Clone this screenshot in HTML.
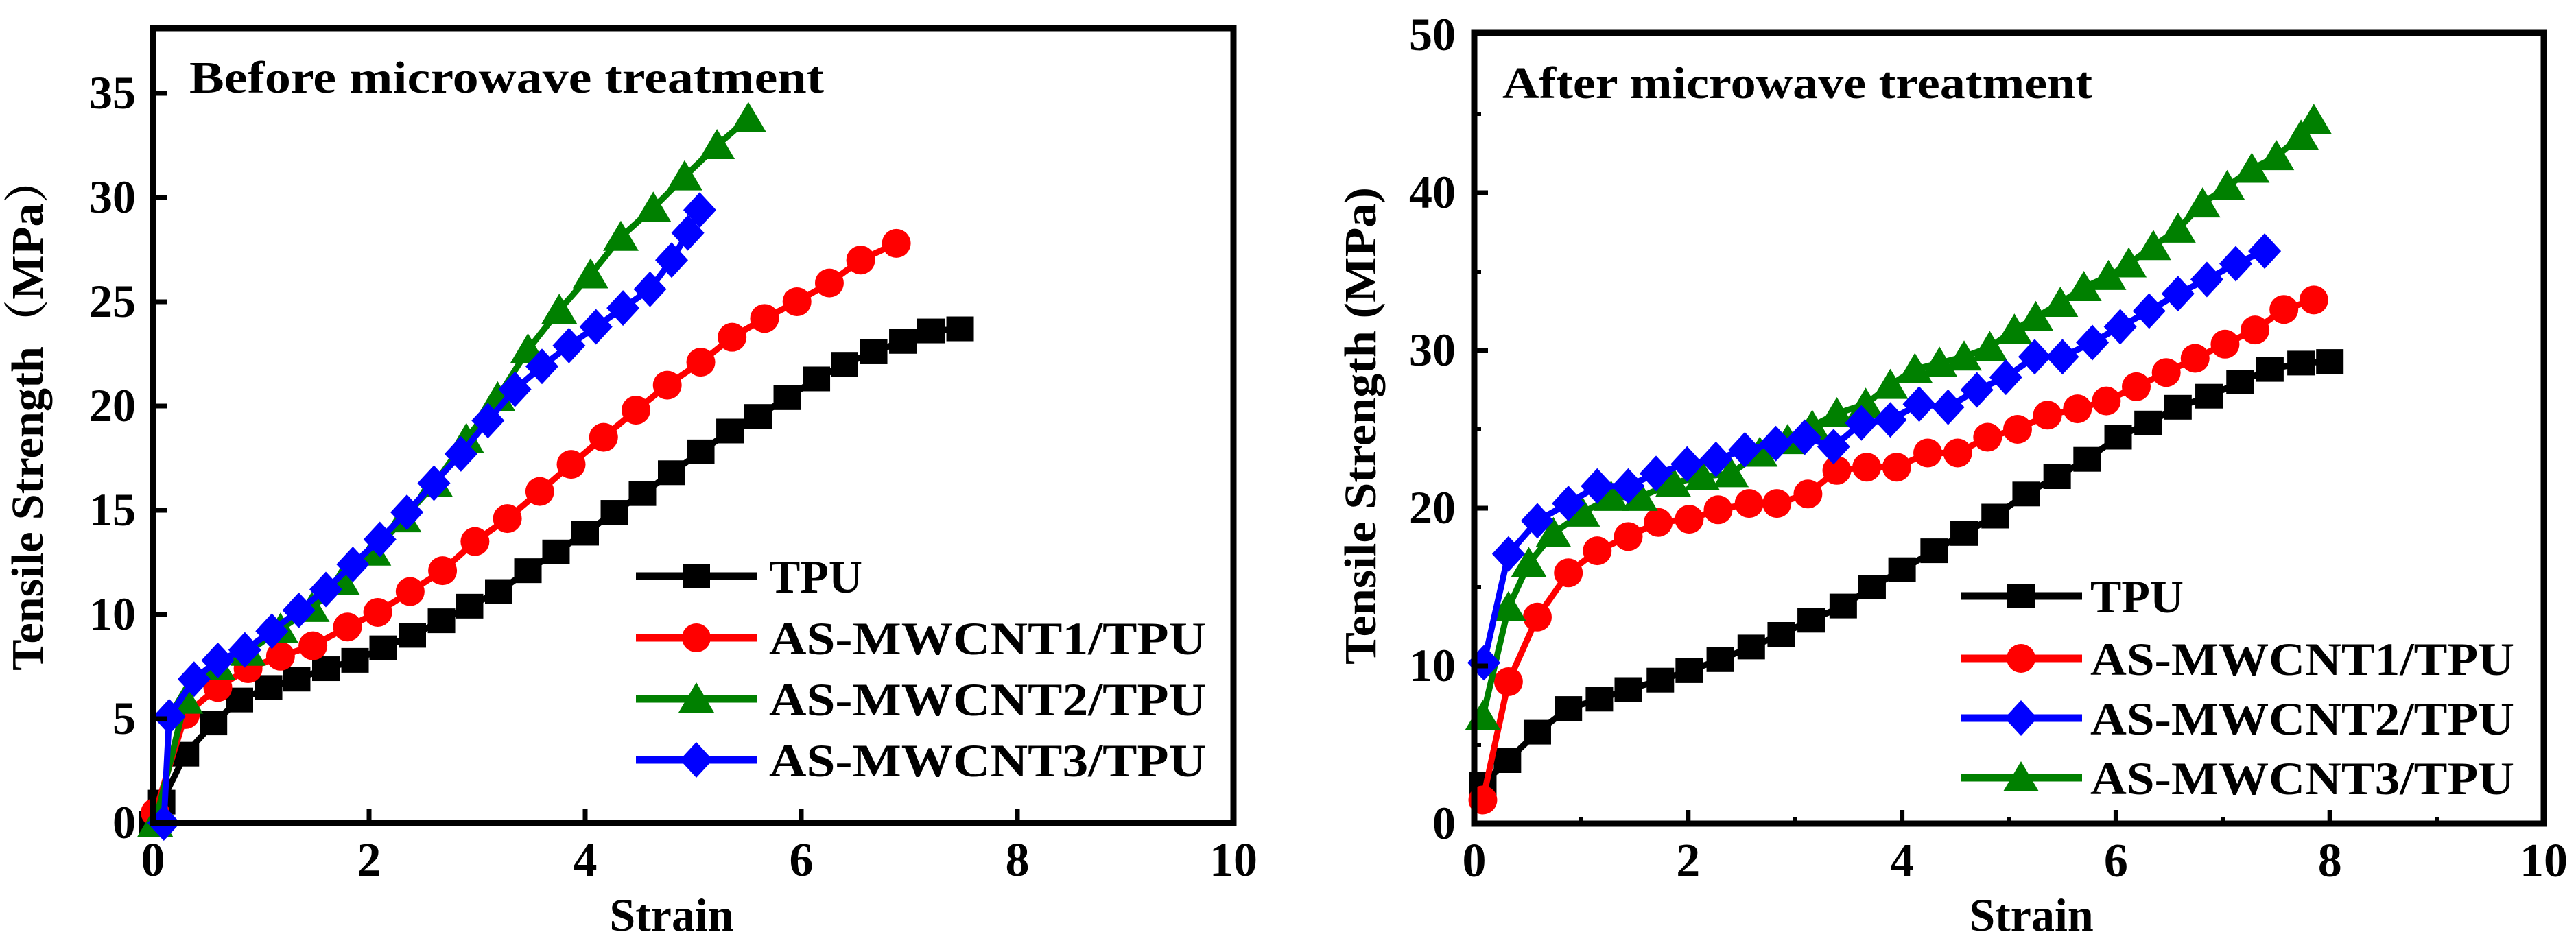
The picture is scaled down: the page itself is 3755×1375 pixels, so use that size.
<!DOCTYPE html>
<html><head><meta charset="utf-8"><style>
html,body{margin:0;padding:0;background:#fff;}
svg{display:block;}
text{font-family:"Liberation Serif","Noto Serif CJK SC",serif;font-weight:bold;fill:#000;}
</style></head><body>
<svg id="fig" width="3755" height="1375" viewBox="0 0 3755 1375" xmlns="http://www.w3.org/2000/svg"></svg>
<script>
// ---- Left chart data (Before microwave treatment) ----
const L_TPU_X = [0,0.08,0.3,0.56,0.8,1.07,1.33,1.6,1.87,2.13,2.4,2.67,2.93,3.2,3.47,3.73,4.0,4.27,4.53,4.8,5.07,5.34,5.6,5.87,6.14,6.4,6.67,6.94,7.2,7.47];
const L_TPU_Y = [0,1.0,3.3,4.8,5.9,6.5,6.9,7.4,7.8,8.4,9.0,9.7,10.4,11.1,12.1,13.0,13.9,14.9,15.8,16.8,17.8,18.8,19.5,20.4,21.3,22.0,22.6,23.1,23.6,23.7];
const L_C1_X = [0.02,0.3,0.6,0.88,1.18,1.48,1.8,2.08,2.38,2.68,2.98,3.28,3.58,3.87,4.17,4.47,4.76,5.07,5.36,5.66,5.96,6.26,6.55,6.88];
const L_C1_Y = [0.5,5.2,6.5,7.4,8.0,8.5,9.4,10.1,11.1,12.1,13.5,14.6,15.9,17.2,18.5,19.8,21.0,22.1,23.3,24.2,25.0,25.9,27.0,27.8];
const L_C2_X = [0.02,0.3,0.6,0.88,1.18,1.47,1.75,2.04,2.32,2.61,2.9,3.19,3.47,3.76,4.05,4.33,4.63,4.92,5.22,5.51];
const L_C2_Y = [0,5.9,7.5,8.2,9.3,10.3,11.6,13.0,14.6,16.3,18.4,20.4,22.7,24.6,26.3,28.1,29.5,31.0,32.5,33.8];
const L_C3_X = [0.1,0.15,0.38,0.6,0.85,1.1,1.35,1.6,1.85,2.1,2.35,2.6,2.85,3.1,3.35,3.6,3.85,4.1,4.35,4.6,4.8,4.95,5.06];
const L_C3_Y = [0,5.1,6.9,7.8,8.3,9.2,10.2,11.2,12.4,13.6,14.9,16.3,17.7,19.3,20.8,21.9,22.9,23.8,24.7,25.6,27.0,28.3,29.4];
const L_YTICKS = [0,5,10,15,20,25,30,35];
const L_XTICKS = [0,2,4,6,8,10];
const L_LEGEND = ["TPU","AS-MWCNT1/TPU","AS-MWCNT2/TPU","AS-MWCNT3/TPU"];

// ---- Right chart data (After microwave treatment) ----
const R_TPU_X = [0.08,0.31,0.59,0.88,1.17,1.44,1.74,2.01,2.3,2.59,2.87,3.15,3.45,3.72,4.0,4.3,4.58,4.87,5.16,5.45,5.73,6.02,6.3,6.58,6.87,7.16,7.44,7.73,8.0];
const R_TPU_Y = [2.5,4.0,5.8,7.3,7.9,8.5,9.1,9.7,10.4,11.2,12.0,12.9,13.8,15.0,16.1,17.3,18.4,19.5,20.9,22.0,23.1,24.5,25.4,26.4,27.1,28.0,28.8,29.2,29.3];
const R_C1_X = [0.08,0.32,0.59,0.88,1.15,1.44,1.72,2.01,2.28,2.57,2.83,3.12,3.39,3.67,3.95,4.24,4.52,4.8,5.08,5.36,5.64,5.91,6.19,6.47,6.74,7.02,7.3,7.57,7.85];
const R_C1_Y = [1.5,9.0,13.1,15.9,17.3,18.2,19.1,19.3,19.9,20.3,20.3,20.9,22.4,22.6,22.6,23.5,23.5,24.5,25.0,25.9,26.3,26.8,27.7,28.6,29.5,30.4,31.3,32.6,33.2];
const R_C2_X = [0.09,0.32,0.59,0.88,1.15,1.44,1.7,1.99,2.26,2.53,2.82,3.09,3.36,3.62,3.89,4.16,4.43,4.7,4.97,5.24,5.5,5.78,6.04,6.31,6.58,6.85,7.12,7.39];
const R_C2_Y = [10.2,17.1,19.2,20.3,21.4,21.4,22.2,22.8,23.1,23.7,24.1,24.5,23.9,25.4,25.6,26.6,26.4,27.5,28.3,29.6,29.6,30.5,31.5,32.5,33.6,34.5,35.5,36.3];
const R_C3_X = [0.08,0.32,0.51,0.74,1.01,1.28,1.55,1.86,2.13,2.4,2.67,2.93,3.16,3.39,3.66,3.89,4.12,4.35,4.58,4.82,5.05,5.25,5.48,5.7,5.93,6.12,6.35,6.58,6.81,7.04,7.27,7.5,7.73,7.85];
const R_C3_Y = [6.8,13.7,16.5,18.4,19.7,20.7,20.7,21.6,22.0,22.2,23.5,24.3,25.2,26.0,26.6,27.8,28.8,29.2,29.6,30.2,31.3,32.1,33.0,34.0,34.7,35.5,36.6,37.7,39.3,40.4,41.5,42.3,43.6,44.6];
const R_YTICKS = [0,10,20,30,40,50];
const R_YMINOR = [5,15,25,35,45];
const R_XTICKS = [0,2,4,6,8,10];
const R_XMINOR = [1,3,5,7,9];
const R_LEGEND = ["TPU","AS-MWCNT1/TPU","AS-MWCNT2/TPU","AS-MWCNT3/TPU"];

const NS = "http://www.w3.org/2000/svg";
const svg = document.getElementById('fig');
function mk(tag, attrs, parent){
  const e = document.createElementNS(NS, tag);
  for (const k in attrs) e.setAttribute(k, attrs[k]);
  (parent||svg).appendChild(e);
  return e;
}
function marker(g, shape, cx, cy, color){
  let e;
  if (shape==='square') e = mk('rect',{x:cx-20,y:cy-18,width:40,height:36,fill:color},g);
  else if (shape==='circle') e = mk('ellipse',{cx:cx,cy:cy,rx:21,ry:21,fill:color},g);
  else if (shape==='triangle') e = mk('polygon',{points:`${cx},${cy-24} ${cx+26},${cy+20} ${cx-26},${cy+20}`,fill:color},g);
  else e = mk('polygon',{points:`${cx},${cy-26} ${cx+24},${cy} ${cx},${cy+26} ${cx-24},${cy}`,fill:color},g);
  return e;
}
function chart(c){
  const g = mk('g',{});
  
  
  const sx = v => c.x0 + (v - 0)/10*(c.x1 - c.x0);
  const sy = v => c.y0 - v*c.yu;
  // series
  c.series.forEach(s=>{
    const sg = mk('g',{},g);
    
    
    const pts = s.x.map((xv,i)=>sx(xv)+','+sy(s.y[i])).join(' ');
    const pl = mk('polyline',{points:pts,fill:'none',stroke:s.color,'stroke-width':9,'stroke-linejoin':'round'},sg);
    
    
    s.x.forEach((xv,i)=>{
      const m = marker(sg, s.shape, sx(xv), sy(s.y[i]), s.color);
      
      
    });
  });
  // frame
  const fr = mk('rect',{x:c.x0,y:c.top,width:c.x1-c.x0,height:c.y0-c.top,fill:'none',stroke:'#000','stroke-width':9},g);
  
  
  // ticks
  c.yticks.forEach(v=>{
    const y = sy(v);
    if (v>0 && y>c.top+5){
      const t = mk('line',{x1:c.x0,x2:c.x0+20,y1:y,y2:y,stroke:'#000','stroke-width':7},g);
      
      
    }
    const tl = mk('text',{x:c.ylabR,y:y+22,'text-anchor':'end','font-size':68},g);
    tl.textContent = v;
    
    
  });
  (c.yminor||[]).forEach(v=>{
    const t = mk('line',{x1:c.x0,x2:c.x0+10,y1:sy(v),y2:sy(v),stroke:'#000','stroke-width':6},g);
    
    
  });
  c.xticks.forEach(v=>{
    const x = sx(v);
    if (v>0 && v<10){
      const t = mk('line',{x1:x,x2:x,y1:c.y0,y2:c.y0-20,stroke:'#000','stroke-width':7},g);
      
      
    }
    const tl = mk('text',{x:x,y:c.xlabY,'text-anchor':'middle','font-size':70},g);
    tl.textContent = v;
    
    
  });
  (c.xminor||[]).forEach(v=>{
    const t = mk('line',{x1:sx(v),x2:sx(v),y1:c.y0,y2:c.y0-10,stroke:'#000','stroke-width':6},g);
    
    
  });
  // titles
  const xt = mk('text',{x:c.xtitleX,y:1357,'text-anchor':'middle','font-size':68},g);
  xt.textContent = 'Strain';
  
  
  const yt = mk('text',{x:0,y:0,'text-anchor':'middle','font-size':66,textLength:c.ytLen,lengthAdjust:'spacingAndGlyphs',transform:`translate(${c.ytX},${c.ytY}) rotate(-90)`},g);
  yt.textContent = c.ytitle;
  
  
  const an = mk('text',{x:c.annX,y:c.annY,'font-size':66,textLength:c.annLen,lengthAdjust:'spacingAndGlyphs'},g);
  an.textContent = c.ann;
  
  
  // legend
  c.legendY.forEach((ly,i)=>{
    const s = c.series[c.legOrder[i]];
    const lg = mk('g',{},g);
    
    
    mk('line',{x1:c.legX,x2:c.legX+177,y1:ly,y2:ly,stroke:s.color,'stroke-width':11},lg);
    marker(lg, s.shape, c.legX+88, ly, s.color);
    const txt = c.legend[i];
    const attrs = {x:c.legTX,y:ly+24,'font-size':68};
    if (txt.length>5){attrs.textLength=c.legLen;attrs.lengthAdjust='spacingAndGlyphs';}
    const tx = mk('text',attrs,lg);
    tx.textContent = txt;
  });
}
chart({
  name:'before-treatment-chart', x0:223, x1:1798, top:41, y0:1200, yu:30.4,
  ylabR:198, xlabY:1277, xtitleX:979,
  yticks:L_YTICKS, xticks:L_XTICKS,
  ytitle:'Tensile Strength（MPa）', ytX:62, ytY:603, ytLen:750,
  ann:'Before microwave treatment', annX:276, annY:135, annLen:925,
  legX:927, legTX:1121, legLen:637, legendY:[840,930,1019,1108], legend:L_LEGEND, legOrder:[0,1,2,3],
  series:[
    {id:'tpu-series',x:L_TPU_X,y:L_TPU_Y,color:'#000000',shape:'square'},
    {id:'as-mwcnt1-series',x:L_C1_X,y:L_C1_Y,color:'#ff0000',shape:'circle'},
    {id:'as-mwcnt2-series',x:L_C2_X,y:L_C2_Y,color:'#008000',shape:'triangle'},
    {id:'as-mwcnt3-series',x:L_C3_X,y:L_C3_Y,color:'#0000ff',shape:'diamond'}
  ]
});
chart({
  name:'after-treatment-chart', x0:2149, x1:3708, top:48, y0:1201, yu:23.0,
  ylabR:2122, xlabY:1278, xtitleX:2961,
  yticks:R_YTICKS, yminor:R_YMINOR, xticks:R_XTICKS, xminor:R_XMINOR,
  ytitle:'Tensile Strength (MPa)', ytX:2005, ytY:621, ytLen:696,
  ann:'After microwave treatment', annX:2190, annY:143, annLen:860,
  legX:2858, legTX:3047, legLen:618, legendY:[869,960,1047,1134], legend:R_LEGEND, legOrder:[0,1,3,2],
  series:[
    {id:'tpu-series',x:R_TPU_X,y:R_TPU_Y,color:'#000000',shape:'square'},
    {id:'as-mwcnt1-series',x:R_C1_X,y:R_C1_Y,color:'#ff0000',shape:'circle'},
    {id:'as-mwcnt3-series',x:R_C3_X,y:R_C3_Y,color:'#008000',shape:'triangle'},
    {id:'as-mwcnt2-series',x:R_C2_X,y:R_C2_Y,color:'#0000ff',shape:'diamond'}
  ]
});
</script>
</body></html>
